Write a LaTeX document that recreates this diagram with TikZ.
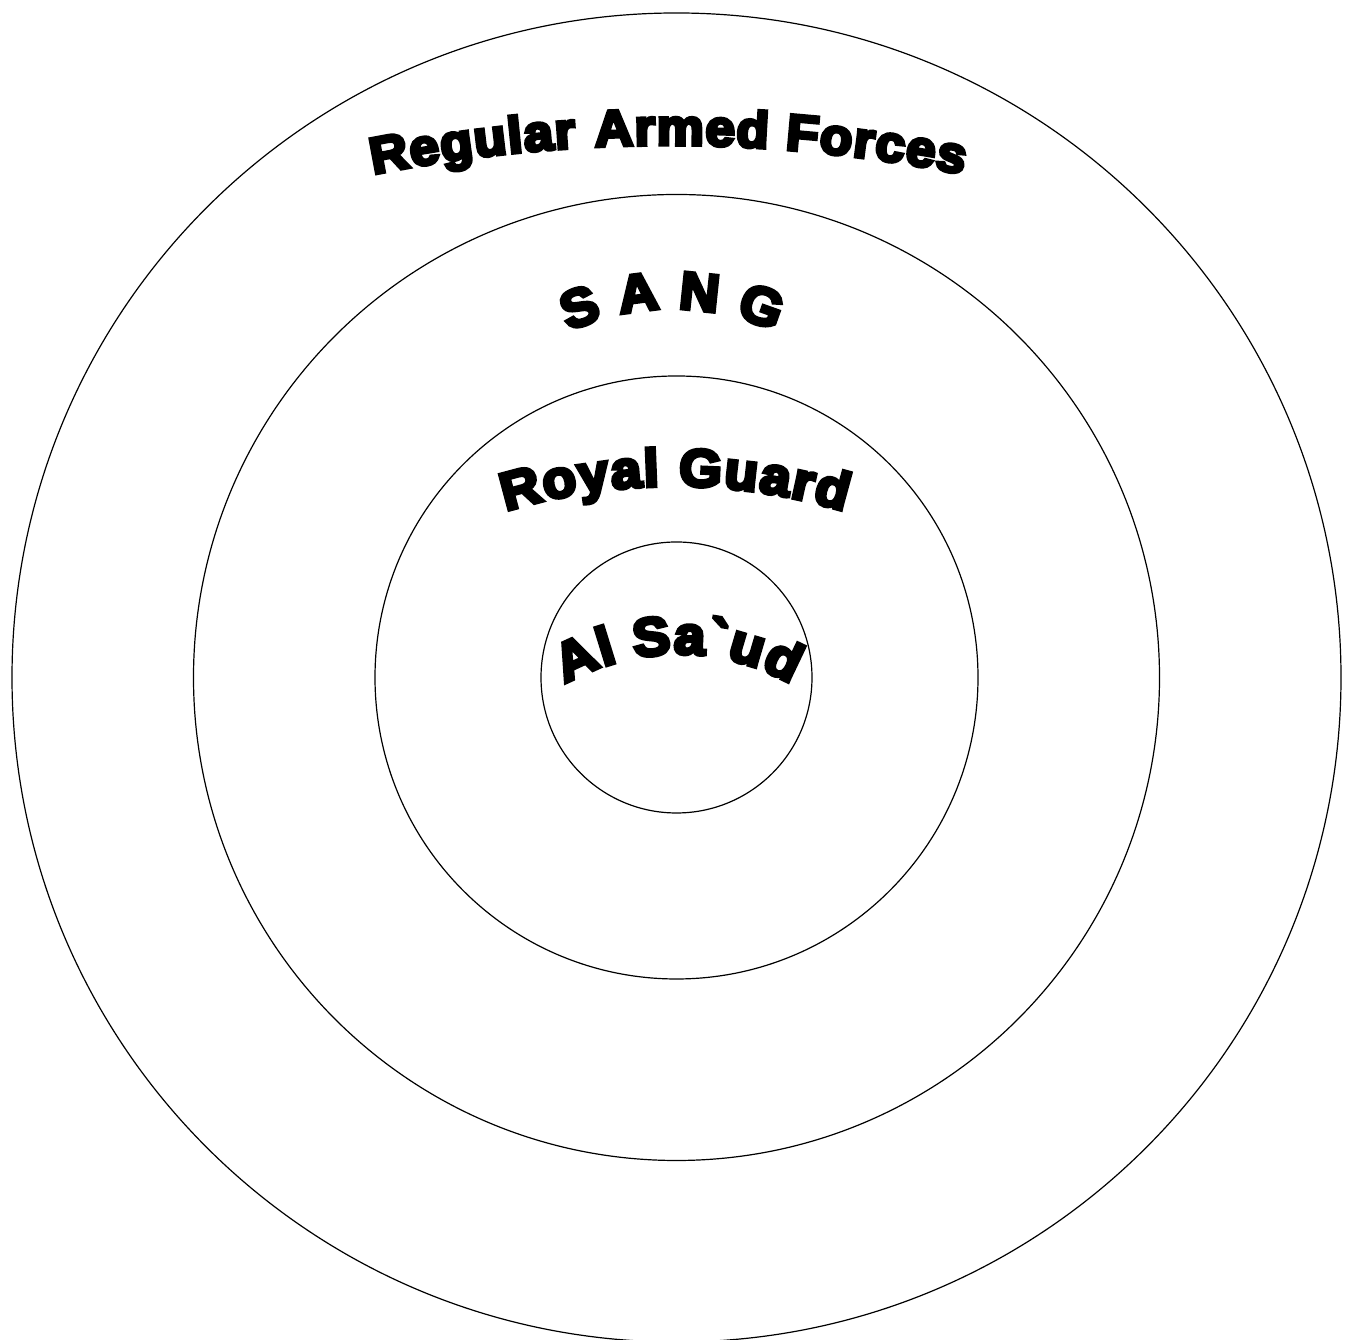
\documentclass[tikz,border=0pt]{standalone}
\usepackage{fontspec}
\usetikzlibrary{decorations.text}
\newfontfamily\wafont[FakeBold=7, FakeStretch=1.04, Ligatures=TeXOff]{Liberation Sans Bold}
\tikzset{
  ring/.style={draw=black, line width=1.2pt},
  arctext/.style={decorate, decoration={text along path, text align=center, text={#1}}}
}
\begin{document}
\begin{tikzpicture}[x=1pt,y=1pt]
\useasboundingbox (0,0) rectangle (1353,1340);
\coordinate (C) at (676.5,662.5);
\draw[ring] (C) circle[radius=664.5];
\draw[ring] (C) circle[radius=483];
\draw[ring] (C) circle[radius=301.5];
\draw[ring] (C) circle[radius=135.5];
% text arcs
\coordinate (t1) at (668,-305);
\coordinate (t2) at (672,781);
\coordinate (t3) at (675,272);
\coordinate (t4) at (678,458);
\path[arctext={|\wafont\fontsize{51}{51}\selectfont|R{\kern1.2pt}e{\kern1.2pt}g{\kern1.2pt}u{\kern1.2pt}l{\kern1.2pt}a{\kern1.2pt}r{\kern19pt}A{\kern1.2pt}r{\kern1.2pt}m{\kern1.2pt}e{\kern1.2pt}d{\kern17pt}F{\kern1.2pt}o{\kern1.2pt}r{\kern1.2pt}c{\kern1.2pt}e{\kern1.2pt}s}]
  ([shift={(t1)}]110:1500) arc[start angle=110, end angle=70, radius=1500];
\path[arctext={|\wafont\fontsize{53}{53}\selectfont|S{\kern18pt}A{\kern18pt}N{\kern18pt}G}]
  ([shift={(t2)}]160:250) arc[start angle=160, end angle=20, radius=250];
\path[arctext={|\wafont\fontsize{53}{53}\selectfont|R{\kern1.5pt}o{\kern1.5pt}y{\kern1.5pt}a{\kern1.5pt}l{\kern19pt}G{\kern1.5pt}u{\kern1.5pt}a{\kern1.5pt}r{\kern1.5pt}d}]
  ([shift={(t3)}]120:582) arc[start angle=120, end angle=60, radius=582];
\path[arctext={|\wafont\fontsize{54}{54}\selectfont|A{\kern1.5pt}l{\kern17pt}S{\kern1.5pt}a{\kern1.5pt}`{\kern1.5pt}u{\kern1.5pt}d}]
  ([shift={(t4)}]150:228) arc[start angle=150, end angle=30, radius=228];
\end{tikzpicture}
\end{document}
